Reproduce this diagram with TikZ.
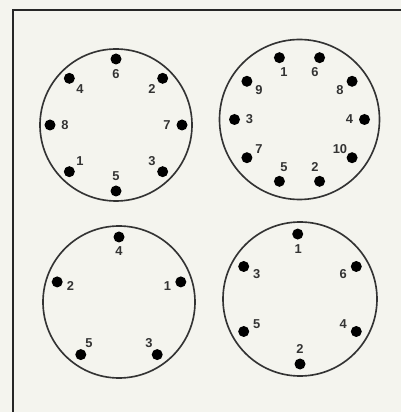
\documentclass[tikz,border=0pt]{standalone}
\usepackage{fontspec}
\setsansfont{Liberation Sans}
\usetikzlibrary{calc}
\definecolor{paperGrey}{HTML}{F4F4EE}
\definecolor{ringDark}{HTML}{333333}

\begin{document}
\begin{tikzpicture}[
  x=0.03cm, y=0.03cm,
  every node/.style={font=\sffamily\bfseries\fontsize{11}{13}\selectfont},
  ring/.style={draw=ringDark, line width=1.4pt},
  pin/.style={circle, fill=black, inner sep=0pt, minimum size=0.33cm},
  pinlabel/.style={inner sep=0pt, text=black!80},
]

% Paper and frame
\fill[paperGrey] (0,0) rectangle (401,412);
\useasboundingbox (0,0) rectangle (401,412);
\draw[black!85, line width=2.2pt] (13,0) -- (13,402) -- (401,402);

% Dial centres
\coordinate (c1) at (116,287);
\coordinate (c2) at (299.5,292.5);
\coordinate (c3) at (119,110);
\coordinate (c4) at (300,113);

% Rings
\draw[ring] (c1) circle (76);
\draw[ring] (c2) circle (80);
\draw[ring] (c3) circle (76);
\draw[ring] (c4) circle (77);

% Dial 1: eight pins
\foreach \ang/\num in {90/6,45/2,0/7,-45/3,-90/5,-135/1,180/8,135/4} {
  \node[pin] (pa\num) at ($(c1)+(\ang:66)$) {};
  \node[pinlabel] (la\num) at ($(c1)+(\ang:51)$) {\num};
}

% Dial 2: ten pins
\foreach \ang/\num in {108/1,72/6,36/8,0/4,-36/10,-72/2,-108/5,-144/7,180/3,144/9} {
  \node[pin] (pb\num) at ($(c2)+(\ang:65)$) {};
  \node[pinlabel] (lb\num) at ($(c2)+(\ang:50)$) {\num};
}

% Dial 3: five pins
\foreach \ang/\num in {90/4,18/1,-54/3,-126/5,162/2} {
  \node[pin] (pc\num) at ($(c3)+(\ang:65)$) {};
  \node[pinlabel] (lc\num) at ($(c3)+(\ang:51)$) {\num};
}

% Dial 4: six pins
\foreach \ang/\num in {92/1,30/6,-30/4,-90/2,-150/5,150/3} {
  \node[pin] (pd\num) at ($(c4)+(\ang:65)$) {};
  \node[pinlabel] (ld\num) at ($(c4)+(\ang:50)$) {\num};
}

\end{tikzpicture}
\end{document}
